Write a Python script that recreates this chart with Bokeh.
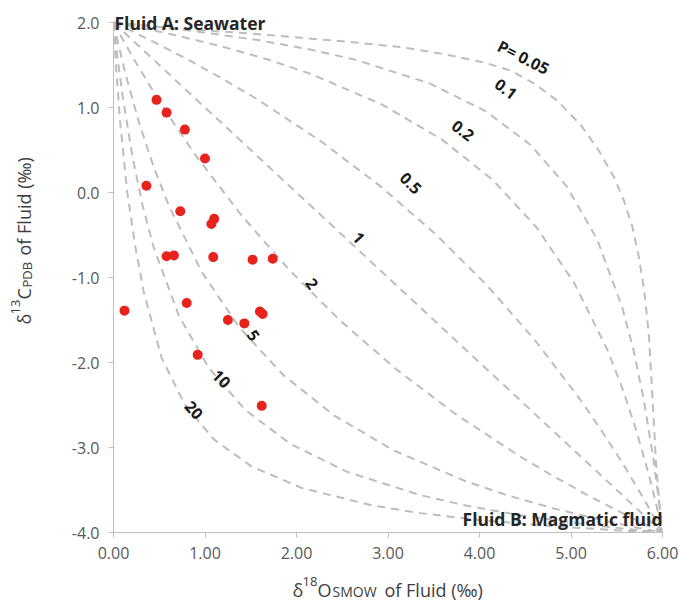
import math
from bokeh.plotting import figure
from bokeh.models import Range1d, FixedTicker, Label
from bokeh.layouts import row, column
from bokeh.embed import file_html
from bokeh.resources import INLINE
from bokeh.core.properties import value

# ---------------- data ----------------
# measured fluid compositions
o18_fluid = [0.47, 0.58, 0.78, 1.00, 0.36, 0.73, 1.10, 1.07, 0.58, 0.66, 1.09,
             1.52, 1.74, 0.12, 0.80, 1.25, 1.43, 1.60, 1.63, 0.92, 1.62]
c13_fluid = [1.09, 0.94, 0.74, 0.40, 0.08, -0.22, -0.31, -0.37, -0.75, -0.74, -0.76,
             -0.79, -0.78, -1.39, -1.30, -1.50, -1.54, -1.40, -1.43, -1.91, -2.51]

# mixing curves
p005_x = [0.0, 0.50, 0.95, 1.50, 2.05, 2.60, 3.14, 3.60, 4.05, 4.35, 4.60, 4.85, 5.11, 5.30,
          5.47, 5.58, 5.67, 5.74, 5.80, 5.85, 5.89, 5.93, 5.965, 6.0]
p005_y = [2.0, 1.95, 1.91, 1.87, 1.82, 1.77, 1.71, 1.63, 1.53, 1.43, 1.28, 1.08, 0.79, 0.50,
          0.18, -0.10, -0.40, -0.75, -1.15, -1.66, -2.40, -3.20, -3.65, -4.0]

p01_x = [0.0, 0.364, 0.856, 1.560, 2.149, 2.649, 3.453, 4.070, 4.559, 4.955, 5.284, 5.560, 5.683, 5.796, 5.902, 5.962, 6.0]
p01_y = [2.0, 1.962, 1.902, 1.796, 1.683, 1.560, 1.284, 0.955, 0.559, 0.070, -0.547, -1.351, -1.851, -2.440, -3.144, -3.636, -4.0]

p02_x = [0.0, 0.262, 0.632, 1.194, 1.698, 2.151, 2.936, 3.591, 4.146, 4.622, 5.035, 5.397, 5.561, 5.716, 5.862, 5.946, 6.0]
p02_y = [2.0, 1.946, 1.862, 1.716, 1.561, 1.397, 1.035, 0.622, 0.146, -0.409, -1.064, -1.849, -2.302, -2.806, -3.368, -3.738, -4.0]

p05_x = [0.0, 0.168, 0.416, 0.815, 1.198, 1.567, 2.264, 2.912, 3.515, 4.078, 4.605, 5.099, 5.334, 5.563, 5.785, 5.915, 6.0]
p05_y = [2.0, 1.915, 1.785, 1.563, 1.334, 1.099, 0.605, 0.078, -0.485, -1.088, -1.736, -2.433, -2.802, -3.185, -3.584, -3.832, -4.0]

p1_x = [0.0, 1.0, 2.0, 3.0, 4.0, 5.0, 6.0]
p1_y = [2.0, 1.0, 0.0, -1.0, -2.0, -3.0, -4.0]

p2_x = [0.0, 0.085, 0.215, 0.437, 0.666, 0.901, 1.395, 1.922, 2.485, 3.088, 3.736, 4.433, 4.802, 5.185, 5.584, 5.832, 6.0]
p2_y = [2.0, 1.832, 1.584, 1.185, 0.802, 0.433, -0.264, -0.912, -1.515, -2.078, -2.605, -3.099, -3.334, -3.563, -3.785, -3.915, -4.0]

p5_x = [0.0, 0.054, 0.138, 0.284, 0.439, 0.603, 0.965, 1.378, 1.854, 2.409, 3.064, 3.849, 4.302, 4.806, 5.368, 5.738, 6.0]
p5_y = [2.0, 1.738, 1.368, 0.806, 0.302, -0.151, -0.936, -1.591, -2.146, -2.622, -3.035, -3.397, -3.561, -3.716, -3.862, -3.946, -4.0]

p10_x = [0.0, 0.038, 0.098, 0.204, 0.317, 0.440, 0.716, 1.045, 1.441, 1.930, 2.547, 3.351, 3.851, 4.440, 5.144, 5.636, 6.0]
p10_y = [2.0, 1.636, 1.144, 0.440, -0.149, -0.649, -1.453, -2.070, -2.559, -2.955, -3.284, -3.560, -3.683, -3.796, -3.902, -3.962, -4.0]

p20_x = [0.0, 0.027, 0.070, 0.150, 0.240, 0.330, 0.525, 0.778, 1.096, 1.507, 2.057, 2.833, 3.353, 4.008, 4.857, 5.498, 6.0]
p20_y = [2.0, 1.498, 0.857, 0.008, -0.647, -1.167, -1.943, -2.493, -2.904, -3.222, -3.476, -3.683, -3.772, -3.855, -3.930, -3.973, -4.0]

curve_label_text = ["P= 0.05", "0.1", "0.2", "0.5", "1", "2", "5", "10", "20"]
curve_label_x = [4.48, 4.29, 3.82, 3.25, 2.68, 2.17, 1.53, 1.18, 0.88]
curve_label_y = [1.59, 1.22, 0.73, 0.11, -0.53, -1.07, -1.68, -2.19, -2.56]
curve_label_angle = [-27, -37, -38, -45, -48, -55, -55, -45, -48]

x_tick_values = [0, 1, 2, 3, 4, 5, 6]
x_tick_labels = ["0.00", "1.00", "2.00", "3.00", "4.00", "5.00", "6.00"]
y_tick_values = [-4, -3, -2, -1, 0, 1, 2]
y_tick_labels = ["-4.0", "-3.0", "-2.0", "-1.0", "0.0", "1.0", "2.0"]

# ---------------- main figure ----------------
FONT = "Open Sans"
MAIN_H = 570
LEFT_W = 40
p = figure(width=679 - LEFT_W, height=MAIN_H, x_range=Range1d(0, 6), y_range=Range1d(-4, 2 + 22 / 85),
           output_backend="svg", toolbar_location=None,
           min_border_left=113 - LEFT_W, min_border_right=17, min_border_top=0, min_border_bottom=38)
p.outline_line_color = None
p.grid.visible = False

for ax, vals, labs in ((p.xaxis[0], x_tick_values, x_tick_labels),
                       (p.yaxis[0], y_tick_values, y_tick_labels)):
    ax.ticker = FixedTicker(ticks=vals, minor_ticks=[])
    ax.major_label_overrides = {v: l for v, l in zip(vals, labs)}
    ax.bounds = (min(vals), max(vals))
    ax.axis_line_color = "#BFBFBF"
    ax.major_tick_line_color = "#BFBFBF"
    ax.major_tick_in = 0
    ax.major_tick_out = 5
    ax.minor_tick_line_color = None
    ax.major_label_text_color = "#595959"
    ax.major_label_text_font = FONT
    ax.major_label_text_font_size = "16px"
p.xaxis.major_label_standoff = 9
p.yaxis.major_label_standoff = 9

dash = dict(line_color="#BDBDBD", line_width=2, line_dash="8 6")
for cx, cy in ((p005_x, p005_y), (p01_x, p01_y), (p02_x, p02_y), (p05_x, p05_y),
               (p1_x, p1_y), (p2_x, p2_y), (p5_x, p5_y), (p10_x, p10_y), (p20_x, p20_y)):
    p.line(cx, cy, **dash)

p.scatter(o18_fluid, c13_fluid, size=10, fill_color="#E8231E", line_color=None)

p.text(x=curve_label_x, y=curve_label_y, text=curve_label_text, angle=curve_label_angle,
       angle_units="deg", text_font=value(FONT), text_font_style="bold",
       text_font_size="16px", text_align="center", text_baseline="middle",
       text_color="#1A1A1A")


def lab(fig, text, x, y, size, angle=0.0, align="left", bold=False, color="#404040"):
    fig.add_layout(Label(x=x, y=y, x_units="screen", y_units="screen", text=text,
                         angle=angle, text_align=align, text_baseline="alphabetic",
                         text_font=FONT, text_font_size=size,
                         text_font_style="bold" if bold else "normal", text_color=color))


# endmember labels (frame spans page y 0..532, x 113..662)
lab(p, "Fluid A: Seawater", 1, 510, "17.5px", bold=True, color="#262626")
lab(p, "Fluid B: Magmatic fluid", 549, 14, "17.5px", align="right", bold=True, color="#262626")


def strip(w, h):
    f = figure(width=w, height=h, x_range=Range1d(0, 1), y_range=Range1d(0, 1),
               output_backend="svg", toolbar_location=None, min_border=0,
               x_axis_type=None, y_axis_type=None)
    f.outline_line_color = None
    return f


# y axis title strip: δ13C(PDB) of Fluid (‰)
left = strip(LEFT_W, MAIN_H)
R = math.pi / 2
ax0, ay0 = 23, MAIN_H - 362
lab(left, "δ", ax0, ay0, "18px", angle=R)
lab(left, "13", ax0 - 8, ay0 + 10, "13px", angle=R)
lab(left, "C", ax0, ay0 + 25, "18px", angle=R)
lab(left, "PDB", ax0 + 3, ay0 + 37, "13px", angle=R)
lab(left, "of Fluid (‰)", ax0, ay0 + 69, "18px", angle=R)

# x axis title strip: δ18O(SMOW) of Fluid (‰)
BOT_H = 601 - MAIN_H
bottom = strip(679, BOT_H)
bx, by = 292, 601 - 589
lab(bottom, "δ", bx, by, "18px")
lab(bottom, "18", bx + 10, by + 8, "13px")
lab(bottom, "O", bx + 25, by, "18px")
lab(bottom, "SMOW", bx + 40, by - 2, "14px")
lab(bottom, "of Fluid (‰)", bx + 92, by, "18px")

layout = column(row(left, p), bottom)
open("out.html", "w").write(file_html(layout, INLINE))
